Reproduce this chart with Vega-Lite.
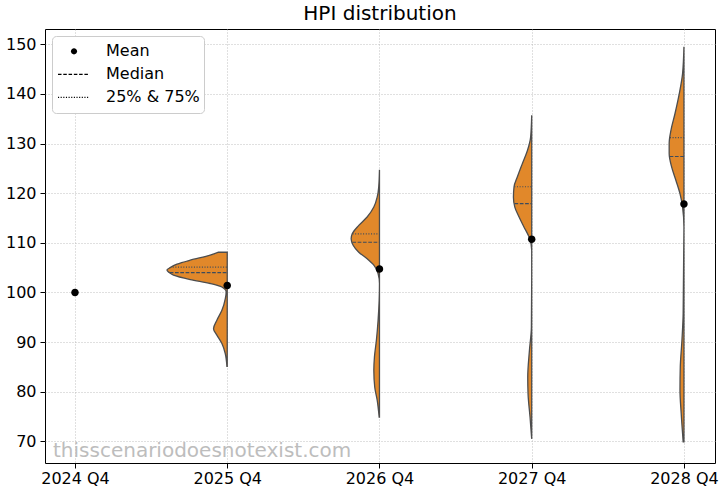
{
  "$schema": "https://vega.github.io/schema/vega-lite/v6.json",
  "width": 670,
  "height": 434,
  "autosize": "none",
  "padding": {"left": 45, "top": 29, "right": 10, "bottom": 29},
  "title": {"text": "HPI distribution", "fontSize": 20, "font": "DejaVu Sans", "fontWeight": "normal", "color": "black", "anchor": "middle", "frame": "group", "offset": 5},
  "datasets": {
    "violin": [
      {"cat": "2025 Q4", "pos": 1, "v": 108.1, "edge": 0.943},
      {"cat": "2025 Q4", "pos": 1, "v": 107.5, "edge": 0.888},
      {"cat": "2025 Q4", "pos": 1, "v": 106.5, "edge": 0.757},
      {"cat": "2025 Q4", "pos": 1, "v": 105.7, "edge": 0.670},
      {"cat": "2025 Q4", "pos": 1, "v": 105.0, "edge": 0.625},
      {"cat": "2025 Q4", "pos": 1, "v": 104.5, "edge": 0.604},
      {"cat": "2025 Q4", "pos": 1, "v": 104.0, "edge": 0.619},
      {"cat": "2025 Q4", "pos": 1, "v": 103.5, "edge": 0.647},
      {"cat": "2025 Q4", "pos": 1, "v": 102.6, "edge": 0.757},
      {"cat": "2025 Q4", "pos": 1, "v": 101.8, "edge": 0.888},
      {"cat": "2025 Q4", "pos": 1, "v": 101.1, "edge": 0.965},
      {"cat": "2025 Q4", "pos": 1, "v": 100.1, "edge": 0.993},
      {"cat": "2025 Q4", "pos": 1, "v": 98.7, "edge": 0.987},
      {"cat": "2025 Q4", "pos": 1, "v": 96.4, "edge": 0.965},
      {"cat": "2025 Q4", "pos": 1, "v": 94.4, "edge": 0.932},
      {"cat": "2025 Q4", "pos": 1, "v": 92.7, "edge": 0.910},
      {"cat": "2025 Q4", "pos": 1, "v": 91.4, "edge": 0.932},
      {"cat": "2025 Q4", "pos": 1, "v": 89.7, "edge": 0.965},
      {"cat": "2025 Q4", "pos": 1, "v": 87.7, "edge": 0.987},
      {"cat": "2025 Q4", "pos": 1, "v": 85.1, "edge": 0.998},

      {"cat": "2026 Q4", "pos": 2, "v": 124.7, "edge": 2.0},
      {"cat": "2026 Q4", "pos": 2, "v": 121.2, "edge": 1.995},
      {"cat": "2026 Q4", "pos": 2, "v": 119.2, "edge": 1.985},
      {"cat": "2026 Q4", "pos": 2, "v": 117.2, "edge": 1.963},
      {"cat": "2026 Q4", "pos": 2, "v": 115.2, "edge": 1.919},
      {"cat": "2026 Q4", "pos": 2, "v": 113.5, "edge": 1.864},
      {"cat": "2026 Q4", "pos": 2, "v": 111.8, "edge": 1.821},
      {"cat": "2026 Q4", "pos": 2, "v": 110.8, "edge": 1.814},
      {"cat": "2026 Q4", "pos": 2, "v": 109.5, "edge": 1.827},
      {"cat": "2026 Q4", "pos": 2, "v": 108.1, "edge": 1.864},
      {"cat": "2026 Q4", "pos": 2, "v": 106.8, "edge": 1.919},
      {"cat": "2026 Q4", "pos": 2, "v": 105.5, "edge": 1.963},
      {"cat": "2026 Q4", "pos": 2, "v": 103.8, "edge": 1.991},
      {"cat": "2026 Q4", "pos": 2, "v": 101.8, "edge": 2.0},
      {"cat": "2026 Q4", "pos": 2, "v": 98.4, "edge": 1.998},
      {"cat": "2026 Q4", "pos": 2, "v": 94.4, "edge": 1.991},
      {"cat": "2026 Q4", "pos": 2, "v": 90.4, "edge": 1.980},
      {"cat": "2026 Q4", "pos": 2, "v": 87.0, "edge": 1.967},
      {"cat": "2026 Q4", "pos": 2, "v": 84.3, "edge": 1.963},
      {"cat": "2026 Q4", "pos": 2, "v": 80.9, "edge": 1.969},
      {"cat": "2026 Q4", "pos": 2, "v": 78.3, "edge": 1.985},
      {"cat": "2026 Q4", "pos": 2, "v": 74.9, "edge": 1.998},

      {"cat": "2027 Q4", "pos": 3, "v": 135.7, "edge": 3.0},
      {"cat": "2027 Q4", "pos": 3, "v": 131.3, "edge": 2.993},
      {"cat": "2027 Q4", "pos": 3, "v": 128.6, "edge": 2.972},
      {"cat": "2027 Q4", "pos": 3, "v": 126.0, "edge": 2.939},
      {"cat": "2027 Q4", "pos": 3, "v": 123.3, "edge": 2.906},
      {"cat": "2027 Q4", "pos": 3, "v": 121.3, "edge": 2.884},
      {"cat": "2027 Q4", "pos": 3, "v": 119.2, "edge": 2.880},
      {"cat": "2027 Q4", "pos": 3, "v": 117.2, "edge": 2.889},
      {"cat": "2027 Q4", "pos": 3, "v": 115.2, "edge": 2.917},
      {"cat": "2027 Q4", "pos": 3, "v": 113.2, "edge": 2.949},
      {"cat": "2027 Q4", "pos": 3, "v": 111.2, "edge": 2.982},
      {"cat": "2027 Q4", "pos": 3, "v": 108.5, "edge": 3.0},
      {"cat": "2027 Q4", "pos": 3, "v": 103.1, "edge": 3.0},
      {"cat": "2027 Q4", "pos": 3, "v": 93.0, "edge": 2.998},
      {"cat": "2027 Q4", "pos": 3, "v": 88.3, "edge": 2.985},
      {"cat": "2027 Q4", "pos": 3, "v": 82.9, "edge": 2.974},
      {"cat": "2027 Q4", "pos": 3, "v": 79.6, "edge": 2.976},
      {"cat": "2027 Q4", "pos": 3, "v": 74.9, "edge": 2.989},
      {"cat": "2027 Q4", "pos": 3, "v": 70.5, "edge": 3.0},

      {"cat": "2028 Q4", "pos": 4, "v": 149.5, "edge": 4.0},
      {"cat": "2028 Q4", "pos": 4, "v": 144.1, "edge": 3.991},
      {"cat": "2028 Q4", "pos": 4, "v": 140.0, "edge": 3.969},
      {"cat": "2028 Q4", "pos": 4, "v": 136.0, "edge": 3.941},
      {"cat": "2028 Q4", "pos": 4, "v": 132.7, "edge": 3.915},
      {"cat": "2028 Q4", "pos": 4, "v": 130.0, "edge": 3.903},
      {"cat": "2028 Q4", "pos": 4, "v": 128.0, "edge": 3.903},
      {"cat": "2028 Q4", "pos": 4, "v": 125.3, "edge": 3.919},
      {"cat": "2028 Q4", "pos": 4, "v": 122.6, "edge": 3.947},
      {"cat": "2028 Q4", "pos": 4, "v": 119.9, "edge": 3.974},
      {"cat": "2028 Q4", "pos": 4, "v": 117.2, "edge": 3.991},
      {"cat": "2028 Q4", "pos": 4, "v": 113.2, "edge": 4.0},
      {"cat": "2028 Q4", "pos": 4, "v": 95.8, "edge": 3.995},
      {"cat": "2028 Q4", "pos": 4, "v": 90.4, "edge": 3.987},
      {"cat": "2028 Q4", "pos": 4, "v": 85.0, "edge": 3.976},
      {"cat": "2028 Q4", "pos": 4, "v": 80.3, "edge": 3.974},
      {"cat": "2028 Q4", "pos": 4, "v": 75.6, "edge": 3.982},
      {"cat": "2028 Q4", "pos": 4, "v": 69.9, "edge": 3.995}
    ],
    "quartiles": [
      {"cat": "2025 Q4", "pos": 1, "q": "25% & 75%", "v": 105.1, "edge": 0.642},
      {"cat": "2025 Q4", "pos": 1, "q": "Median", "v": 104.0, "edge": 0.622},
      {"cat": "2026 Q4", "pos": 2, "q": "25% & 75%", "v": 111.8, "edge": 1.823},
      {"cat": "2026 Q4", "pos": 2, "q": "Median", "v": 110.1, "edge": 1.822},
      {"cat": "2027 Q4", "pos": 3, "q": "25% & 75%", "v": 121.3, "edge": 2.886},
      {"cat": "2027 Q4", "pos": 3, "q": "Median", "v": 117.9, "edge": 2.887},
      {"cat": "2028 Q4", "pos": 4, "q": "25% & 75%", "v": 131.2, "edge": 3.908},
      {"cat": "2028 Q4", "pos": 4, "q": "Median", "v": 127.4, "edge": 3.906}
    ],
    "means": [
      {"cat": "2024 Q4", "pos": 0, "stat": "Mean", "mean": 100.0},
      {"cat": "2025 Q4", "pos": 1, "stat": "Mean", "mean": 101.4},
      {"cat": "2026 Q4", "pos": 2, "stat": "Mean", "mean": 104.7},
      {"cat": "2027 Q4", "pos": 3, "stat": "Mean", "mean": 110.7},
      {"cat": "2028 Q4", "pos": 4, "stat": "Mean", "mean": 117.8}
    ]
  },
  "layer": [
    {
      "data": {"name": "violin"},
      "mark": {"type": "area", "orient": "horizontal", "fill": "#e1882a", "fillOpacity": 1, "stroke": "#4d4d4d", "strokeWidth": 1.3, "interpolate": "monotone"},
      "encoding": {
        "y": {"field": "v", "type": "quantitative", "scale": {"domain": [65.63, 153.08], "nice": false, "zero": false}, "axis": {"values": [70, 80, 90, 100, 110, 120, 130, 140, 150]}},
        "x": {"field": "edge", "type": "quantitative", "scale": {"domain": [-0.197, 4.204], "nice": false, "zero": false}, "axis": {"values": [0, 1, 2, 3, 4], "labelExpr": "['2024 Q4','2025 Q4','2026 Q4','2027 Q4','2028 Q4'][datum.value]"}},
        "x2": {"field": "pos"},
        "detail": {"field": "cat"}
      }
    },
    {
      "data": {"name": "quartiles"},
      "mark": {"type": "rule", "color": "#3c4b5c", "strokeWidth": 1.1},
      "encoding": {
        "y": {"field": "v", "type": "quantitative"},
        "x": {"field": "edge", "type": "quantitative"},
        "x2": {"field": "pos"},
        "strokeDash": {"field": "q", "type": "nominal", "scale": {"domain": ["Median", "25% & 75%"], "range": [[3.7, 1.6], [1, 1.65]]}, "legend": null}
      }
    },
    {
      "data": {"name": "means"},
      "mark": {"type": "point", "filled": true, "color": "black", "opacity": 1, "size": 1560},
      "encoding": {
        "x": {"field": "pos", "type": "quantitative"},
        "y": {"field": "mean", "type": "quantitative"},
        "shape": {
          "field": "stat", "type": "nominal",
          "scale": {
            "domain": ["Mean", "Median", "25% & 75%"],
            "range": [
              "M-0.19,0A0.19,0.19,0,1,0,0.19,0A0.19,0.19,0,1,0,-0.19,0Z",
              "M-1,-0.04H-0.78V0.04H-1Z M-0.67,-0.04H-0.45V0.04H-0.67Z M-0.34,-0.04H-0.12V0.04H-0.34Z M-0.01,-0.04H0.21V0.04H-0.01Z M0.32,-0.04H0.54V0.04H0.32Z M0.65,-0.04H0.87V0.04H0.65Z",
              "M-1,-0.035H-0.93V0.035H-1Z M-0.835,-0.035H-0.765V0.035H-0.835Z M-0.67,-0.035H-0.6V0.035H-0.67Z M-0.505,-0.035H-0.435V0.035H-0.505Z M-0.34,-0.035H-0.27V0.035H-0.34Z M-0.175,-0.035H-0.105V0.035H-0.175Z M-0.01,-0.035H0.06V0.035H-0.01Z M0.155,-0.035H0.225V0.035H0.155Z M0.32,-0.035H0.39V0.035H0.32Z M0.485,-0.035H0.555V0.035H0.485Z M0.65,-0.035H0.72V0.035H0.65Z M0.815,-0.035H0.885V0.035H0.815Z"
            ]
          },
          "legend": {
            "title": null, "orient": "top-left", "offset": 7,
            "labelFontSize": 16, "labelFont": "DejaVu Sans", "labelColor": "black",
            "symbolSize": 1024, "symbolFillColor": "black", "symbolStrokeWidth": 0,
            "symbolOpacity": 1, "symbolOffset": 2,
            "labelOffset": 16, "clipHeight": 22.7, "rowPadding": 0,
            "fillColor": "white", "strokeColor": "#cccccc", "cornerRadius": 4, "padding": 4
          }
        }
      }
    },
    {
      "data": {"values": [{"label": "thisscenariodoesnotexist.com"}]},
      "mark": {"type": "text", "align": "left", "baseline": "alphabetic", "fontSize": 20, "font": "DejaVu Sans", "color": "#bdbdbd"},
      "encoding": {
        "text": {"field": "label"},
        "x": {"datum": -0.1445},
        "y": {"datum": 66.9}
      }
    }
  ],
  "config": {
    "font": "DejaVu Sans",
    "view": {"stroke": "black", "strokeWidth": 1},
    "axis": {"domain": false, "grid": true, "gridColor": "#b0b0b0", "gridDash": [1, 2], "gridWidth": 0.8, "tickColor": "black", "tickSize": 5, "tickWidth": 1, "labelFontSize": 16, "labelColor": "black", "labelFont": "DejaVu Sans", "title": null},
    "axisX": {"labelPadding": 2},
    "axisY": {"labelPadding": 4}
  }
}
